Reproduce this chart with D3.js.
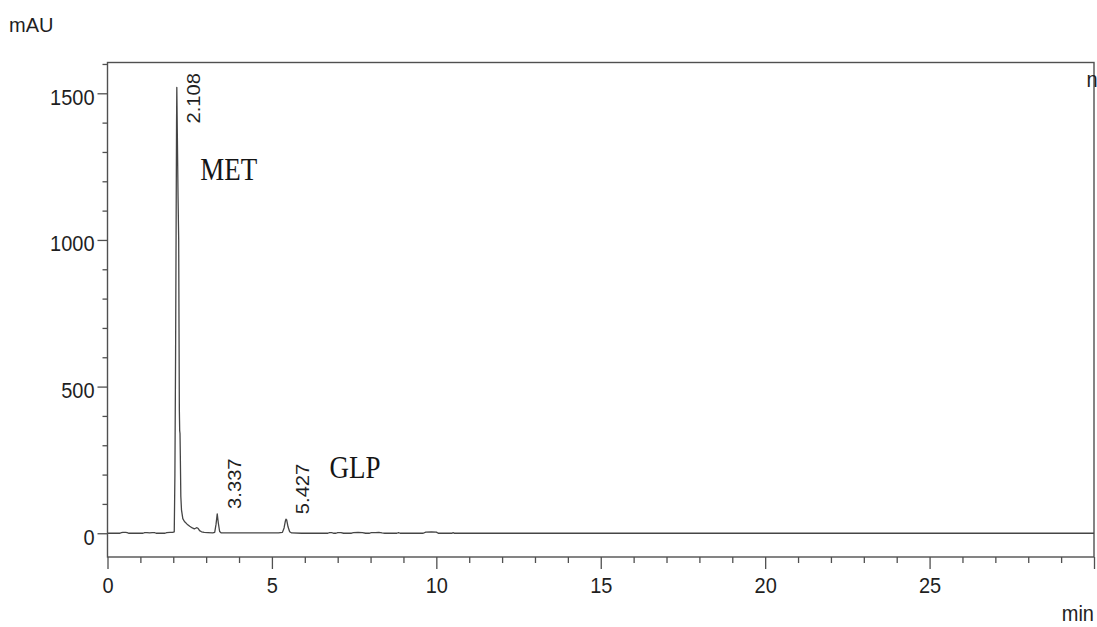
<!DOCTYPE html>
<html>
<head>
<meta charset="utf-8">
<script src="https://cdn.jsdelivr.net/npm/d3@7"></script>
<style>
  body { margin: 0; background: #fff; }
  svg { display: block; }
</style>
</head>
<body>
<svg id="chart" width="1097" height="627"></svg>
<script>
// Detector trace: retention time (min) and absorbance (mAU)
const timeMin = [
  0.00, 0.38, 0.42, 0.47, 0.55, 0.60, 0.64, 1.08, 1.13, 1.20, 1.28, 1.36, 1.43, 1.48,
  1.75, 1.80, 1.90, 1.98, 2.03, 2.05, 2.07, 2.085, 2.10, 2.108, 2.125, 2.145, 2.165,
  2.175, 2.185, 2.195, 2.205, 2.215, 2.23, 2.25, 2.29, 2.34, 2.42, 2.50, 2.58, 2.64,
  2.68, 2.72, 2.76, 2.80, 2.86, 2.94, 3.05, 3.20, 3.26, 3.30, 3.337, 3.37, 3.41, 3.46,
  3.80, 4.50, 5.20, 5.32, 5.37, 5.41, 5.427, 5.45, 5.49, 5.54, 5.60, 5.90,
  6.70, 6.75, 6.82, 6.87, 6.95, 7.00, 7.10, 7.18, 7.42, 7.48, 7.62, 7.75, 7.85,
  7.97, 8.02, 8.15, 8.25, 8.35, 8.43, 8.80, 8.85, 8.90, 9.60, 9.68, 9.85, 10.00,
  10.06, 10.48, 10.51, 10.54, 30.00
];
const signalMAU = [
  0, 0, 2, 3, 3, 2, 0, 0, 2, 2, 1, 2, 2, 0,
  0, 2, 3, 3, 5, 200, 600, 1000, 1400, 1520, 1350, 1150, 1000,
  700, 420, 350, 340, 260, 125, 80, 50, 40, 31, 24, 18, 15,
  17, 19, 16, 9, 5, 3, 2, 1, 3, 30, 66, 35, 6, 1,
  1, 1, 1, 3, 18, 42, 48, 45, 22, 5, 1, 0,
  0, 2, 2, 0, 0, 2, 2, 0, 0, 2, 3, 2, 0,
  0, 2, 2, 3, 1, 0, 0, 2, 0, 0, 4, 5, 4,
  0, 0, 2, 0, 0
];

// Integrated peaks
const peakTimes = [2.108, 3.337, 5.427];
const peakHeights = [1520, 66, 48];
const peakLabels = ["2.108", "3.337", "5.427"];

// Compound annotations (anchor in data units)
const compoundNames = ["MET", "GLP"];
const compoundTimes = [2.82, 6.75];
const compoundLevels = [1205, 190];

// Axis ticks
const xMajorTicks = [0, 5, 10, 15, 20, 25, 30];
const xTickLabels = ["0", "5", "10", "15", "20", "25", ""];
const yMajorTicks = [0, 500, 1000, 1500];
const yTickLabels = ["0", "500", "1000", "1500"];

const svg = d3.select("#chart");
const plotLeft = 107.5, plotRight = 1094, plotTop = 62.5, plotBottom = 557;

const x = d3.scaleLinear().domain([0, 30]).range([plotLeft, plotRight]);
const y = d3.scaleLinear().domain([-81, 1605]).range([plotBottom, plotTop]);

const axisColor = "#505050";
const textColor = "#1f1f1f";
const sans = "'Liberation Sans', Arial, sans-serif";
const serif = "'Liberation Serif', 'Times New Roman', serif";

// Plot frame
svg.append("rect")
  .attr("x", plotLeft).attr("y", plotTop)
  .attr("width", plotRight - plotLeft).attr("height", plotBottom - plotTop)
  .attr("fill", "none").attr("stroke", axisColor).attr("stroke-width", 1.4);

svg.append("clipPath").attr("id", "plotClip")
  .append("rect").attr("x", plotLeft).attr("y", plotTop)
  .attr("width", plotRight - plotLeft).attr("height", plotBottom - plotTop);

// Y axis: minor ticks every 100 mAU, labelled majors every 500
const yMinor = d3.range(0, 1601, 100).filter(v => v % 500 !== 0);
svg.append("g").attr("transform", `translate(${plotLeft},0)`)
  .call(d3.axisLeft(y).tickValues(yMinor).tickSize(5).tickFormat(""))
  .call(g => g.select(".domain").remove())
  .call(g => g.selectAll("line").attr("stroke", axisColor).attr("stroke-width", 1.3));

const yAxis = svg.append("g").attr("transform", `translate(${plotLeft},0)`)
  .call(d3.axisLeft(y).tickValues(yMajorTicks).tickSize(10).tickPadding(3)
    .tickFormat((d, i) => yTickLabels[i]))
  .call(g => g.select(".domain").remove())
  .call(g => g.selectAll("line").attr("stroke", axisColor).attr("stroke-width", 1.3));
yAxis.selectAll("text")
  .attr("dy", null).attr("y", 0)
  .attr("transform", "translate(0,11) scale(1,1.12)")
  .attr("fill", textColor)
  .style("font-family", sans).style("font-size", "20px");

// X axis: minor ticks every minute, labelled majors every 5 min
const xMinor = d3.range(0, 31, 1).filter(v => v % 5 !== 0);
svg.append("g").attr("transform", `translate(0,${plotBottom})`)
  .call(d3.axisBottom(x).tickValues(xMinor).tickSize(6).tickFormat(""))
  .call(g => g.select(".domain").remove())
  .call(g => g.selectAll("line").attr("stroke", axisColor).attr("stroke-width", 1.3));

const xAxis = svg.append("g").attr("transform", `translate(0,${plotBottom})`)
  .call(d3.axisBottom(x).tickValues(xMajorTicks).tickSize(12)
    .tickFormat((d, i) => xTickLabels[i]))
  .call(g => g.select(".domain").remove())
  .call(g => g.selectAll("line").attr("stroke", axisColor).attr("stroke-width", 1.3));
xAxis.selectAll("text")
  .attr("dy", null).attr("y", 0)
  .attr("transform", "translate(0,36) scale(1,1.12)")
  .attr("fill", textColor)
  .style("font-family", sans).style("font-size", "20px");

// Axis units
svg.append("text")
  .attr("x", 9).attr("y", 32)
  .attr("fill", textColor)
  .style("font-family", sans).style("font-size", "20px")
  .text("mAU");

svg.append("text")
  .attr("transform", `translate(${plotRight},621) scale(1,1.12)`)
  .attr("text-anchor", "end")
  .attr("fill", textColor)
  .style("font-family", sans).style("font-size", "20px")
  .text("min");

// Signal trace
const trace = timeMin.map((t, i) => [t, signalMAU[i]]);
svg.append("path")
  .datum(trace)
  .attr("clip-path", "url(#plotClip)")
  .attr("fill", "none")
  .attr("stroke", "#454545")
  .attr("stroke-width", 1.3)
  .attr("stroke-linejoin", "round")
  .attr("d", d3.line().x(d => x(d[0])).y(d => y(d[1])));

// Retention time labels, rotated, kept inside the frame
peakTimes.forEach((t, i) => {
  const labelLen = 50;
  const startY = Math.max(y(peakHeights[i]) - 5, plotTop + 11 + labelLen);
  svg.append("text")
    .attr("transform", `translate(${x(t) + 23.5},${startY}) rotate(-90) scale(1.12,1)`)
    .attr("fill", textColor)
    .style("font-family", sans).style("font-size", "18px")
    .text(peakLabels[i]);
});

// Compound names
compoundNames.forEach((name, i) => {
  svg.append("text")
    .attr("transform", `translate(${x(compoundTimes[i])},${y(compoundLevels[i])}) scale(1,1.15)`)
    .attr("fill", "#151515")
    .style("font-family", serif).style("font-size", "27px")
    .text(name);
});

// Clipped signal description at the top-right corner
svg.append("text")
  .attr("transform", "translate(1086.5,87) scale(1,1.12)")
  .attr("fill", textColor)
  .style("font-family", sans).style("font-size", "20px")
  .text("n");
</script>
</body>
</html>
